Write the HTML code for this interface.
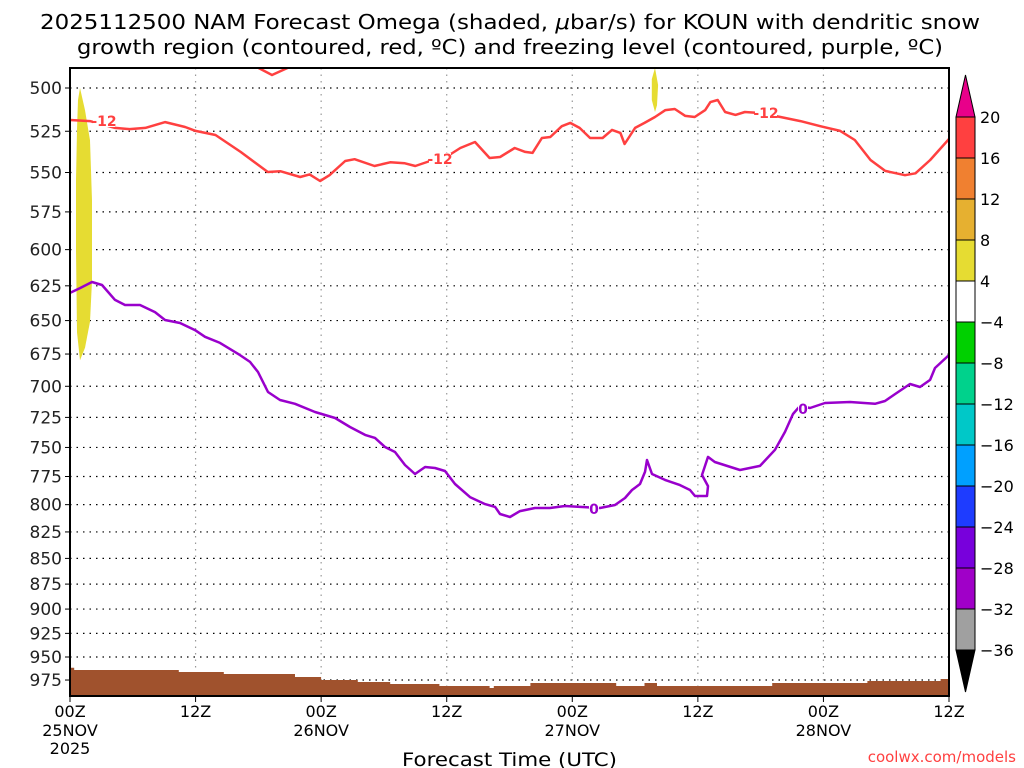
<!DOCTYPE html>
<html><head><meta charset="utf-8"><style>
html,body{margin:0;padding:0;background:#fff;}
svg{display:block;font-family:"DejaVu Sans","Liberation Sans",sans-serif;}
</style></head><body>
<svg id="chart" width="1024" height="768" viewBox="0 0 1024 768" xmlns="http://www.w3.org/2000/svg">
<text x="40" y="29" font-size="20" textLength="940" lengthAdjust="spacingAndGlyphs" fill="#000">2025112500 NAM Forecast Omega (shaded, <tspan font-style="italic">μ</tspan>bar/s) for KOUN with dendritic snow</text>
<text x="77" y="54" font-size="20" textLength="866" lengthAdjust="spacingAndGlyphs" fill="#000">growth region (contoured, red, ºC) and freezing level (contoured, purple, ºC)</text>
<g id="plot"></g>
<text x="402" y="766" font-size="19" textLength="215" lengthAdjust="spacingAndGlyphs">Forecast Time (UTC)</text>
<text x="1016" y="762" font-size="15" text-anchor="end" fill="#ff4040">coolwx.com/models</text>
</svg>
<script>
// ---- data ----
const redHours=[0,1.9,4.3,5.7,7.2,9.1,11.0,12,13.9,16.3,18.9,20.1,22,22.9,23.9,24.8,26.3,27.2,29.1,30.6,32,33,34.4,35.8,37.3,38.7,40.1,41.1,42.5,43.5,44.2,45.1,45.9,47,47.8,48.7,49.7,50.9,51.8,52.6,53,54,54.9,55.9,56.9,57.8,58.8,59.7,60.7,61.2,61.9,62.6,63.6,64.5,65.9,67.9,69.8,71.7,73.6,75,76.5,77.9,79.8,80.8,82.2,84];
const redPres=[518.4,519,523,523.7,523,519.6,522.5,524.8,527.2,537.4,549.7,549.2,552.8,551.2,555.3,551.7,542.9,541.8,546,543.7,544.3,546,542.9,541.1,535,531.4,541.1,540.5,535,537.4,538,529,528.4,522,520.1,523,529,529,524.2,526,532.6,523,520.1,516.6,512.6,512,516,516.6,512.6,508,506.8,513.7,515.4,513.7,514.3,516.6,519,522,524.8,530.2,542.3,549,551.7,550.5,542.3,529.6];
const redTopHours=[18,19.3,20.8];
const redTopPres=[488.8,492.7,488.8];
const purHours=[0,0.96,2.1,3.06,4.3,5.26,6.69,8.12,9.08,10.51,11.95,12.9,14.33,16.25,17.2,17.97,18.92,20.07,21.5,23.41,25.33,26.76,28.2,29.15,30.1,31.06,32.01,32.97,33.93,34.88,35.84,36.79,38.23,39.66,40.62,41.09,42.05,43,44.44,45.87,47.3,48.74,50.65,52.08,53.04,53.71,54.47,54.95,55.14,55.62,56.86,58.29,59.25,59.73,60.87,60.97,60.4,60.97,61.62,64.03,65.94,67.37,68.33,69.09,69.76,70.72,72.15,74.54,76.93,77.88,78.84,80.27,81.23,82.19,82.66,84];
const purPres=[630,626.6,622.3,624.4,635,638.7,638.7,643.8,649.6,651.8,657,662,666.6,675.8,681,688.8,704.5,710.9,714,720.6,725.5,732.9,739.5,742,749.6,753.9,765,772.8,766.7,767.6,770.2,781.6,793.2,799.5,802,808.5,811.2,805.8,803,803,801.2,802,803,800.3,794,786.9,781.6,771,760.7,772.8,778,782.5,786.9,792.2,792.2,783.4,773.7,758,762.4,769.3,765.8,752,737,722.2,715.7,717.4,713.3,712.5,714,711.7,706.2,698.2,700.6,695,685.7,675.8];
const sfcHours=[0,0.4,10.4,14.7,21.5,24,27.5,30.6,35.3,39.7,40.1,40.5,42.9,44,51,52.2,54.9,56.1,66,67.1,75.3,76.2,82.5,83.2,84];
const sfcPres=[961.5,964,966.2,968.4,971.7,975,977.2,979.4,981.6,981.6,983.8,981.6,981.6,978.3,978.3,981.6,978.3,981.6,981.6,978.3,978.3,976.1,976.1,973.9,973.9];
const blob1Hours=[0.96,1.43,1.91,2.1,2.1,1.91,1.43,0.96,0.67,0.57,0.57,0.67,0.76];
const blob1Pres=[500,512.6,530.4,567.7,621.4,650.9,670.3,679.8,658.6,600.3,554.5,524.3,506.8];
const blob2Hours=[55.9,56.2,56.1,55.9,55.6,55.6];
const blob2Pres=[488.8,498.3,509.8,513.7,506.8,495];
const yTicks=[500,525,550,575,600,625,650,675,700,725,750,775,800,825,850,875,900,925,950,975];
const xTickHours=[0,12,24,36,48,60,72,84];
const xTickLabels=["00Z","12Z","00Z","12Z","00Z","12Z","00Z","12Z"];
const xDateLabels=["25NOV","","26NOV","","27NOV","","28NOV",""];
const cbLabels=["20","16","12","8","4","−4","−8","−12","−16","−20","−24","−28","−32","−36"];
const cbColors=["#ff4040","#f08030","#e6b030","#e6dc32","#ffffff","#00d000","#00d28c","#00c8c8","#00a0ff","#1e3cff","#7800dc","#a000c8","#a0a0a0"];
// ---- axes ----
const X0=70,X1=949,Y0=68,Y1=696;
function xs(h){return X0+h*(X1-X0)/84;}
function ys(p){return 88+886.5*Math.log(p/500);}
const NS="http://www.w3.org/2000/svg";
const plot=document.getElementById('plot');
function mk(tag,attrs,parent){const e=document.createElementNS(NS,tag);for(const k in attrs)e.setAttribute(k,attrs[k]);(parent||plot).appendChild(e);return e;}
function pts(H,P){return H.map((h,i)=>xs(h).toFixed(1)+','+ys(P[i]).toFixed(1)).join(' ');}
const defs=mk('defs',{});const cp=mk('clipPath',{id:'pc'},defs);mk('rect',{x:X0,y:Y0,width:X1-X0,height:Y1-Y0},cp);
for(const p of yTicks){const g=mk('line',{x1:X0,x2:X1,y1:ys(p),y2:ys(p),stroke:'#000','stroke-width':1.2,'stroke-dasharray':'1.5,5'});

}
for(const h of xTickHours.slice(1,-1)){const g=mk('line',{x1:xs(h),x2:xs(h),y1:Y0,y2:Y1,stroke:'#999','stroke-width':1.2,'stroke-dasharray':'1.5,5'});

}
const cg=mk('g',{'clip-path':'url(#pc)'});
let b=mk('polygon',{points:pts(blob1Hours,blob1Pres),fill:'#e6dc32'},cg);


b=mk('polygon',{points:pts(blob2Hours,blob2Pres),fill:'#e6dc32'},cg);


// surface (stepped)
let sp='M'+xs(0)+','+Y1+' L'+xs(0)+','+ys(sfcPres[0]).toFixed(1);
for(let i=1;i<sfcHours.length;i++){sp+=' L'+xs(sfcHours[i]).toFixed(1)+','+ys(sfcPres[i-1]).toFixed(1)+' L'+xs(sfcHours[i]).toFixed(1)+','+ys(sfcPres[i]).toFixed(1);}
sp+=' L'+xs(84)+','+Y1+' Z';
const sf=mk('path',{d:sp,fill:'#a0522d'},cg);


let l=mk('polyline',{points:pts(redHours,redPres),fill:'none',stroke:'#ff4040','stroke-width':2.5,'stroke-linejoin':'round'},cg);


l=mk('polyline',{points:pts(redTopHours,redTopPres),fill:'none',stroke:'#ff4040','stroke-width':2.5},cg);


l=mk('polyline',{points:pts(purHours,purPres),fill:'none',stroke:'#9900cc','stroke-width':2.5,'stroke-linejoin':'round'},cg);


function clab(x,y,t,c,w){mk('rect',{x:x-w/2,y:y-6,width:w,height:12,fill:'#fff'},cg);const e=mk('text',{x:x,y:y+5,'font-size':14,'font-weight':'bold','text-anchor':'middle',fill:c},cg);e.textContent=t;

}
clab(104,121,'-12','#ff4040',22);clab(440,159,'-12','#ff4040',22);clab(766,113,'-12','#ff4040',22);
clab(594,509,'0','#9900cc',10);clab(803,409,'0','#9900cc',10);
const fr=mk('rect',{x:X0,y:Y0,width:X1-X0,height:Y1-Y0,fill:'none',stroke:'#000','stroke-width':2});


for(const p of yTicks){const t=mk('text',{x:62,y:ys(p)+6,'font-size':17,'text-anchor':'end',fill:'#222'});t.textContent=p;


mk('line',{x1:X0-5,x2:X0,y1:ys(p),y2:ys(p),stroke:'#000','stroke-width':1});}
xTickHours.forEach((h,i)=>{mk('line',{x1:xs(h),x2:xs(h),y1:Y1,y2:Y1+6,stroke:'#000','stroke-width':1});
const t=mk('text',{x:xs(h),y:717,'font-size':16,'text-anchor':'middle'});t.textContent=xTickLabels[i];


if(xDateLabels[i]){const d=mk('text',{x:xs(h),y:736,'font-size':16,'text-anchor':'middle'});d.textContent=xDateLabels[i];

}});
const yr=mk('text',{x:xs(0),y:754,'font-size':16,'text-anchor':'middle'});yr.textContent='2025';


const CX=956,CW=19,CT=117,CB=650,step=(CB-CT)/cbColors.length;
const cb=mk('g',{});


mk('polygon',{points:`${CX},${CT} ${CX+CW},${CT} ${CX+CW/2},${75}`,fill:'#e8008a',stroke:'#000','stroke-width':1},cb);
cbColors.forEach((c,i)=>{const r=mk('rect',{x:CX,y:CT+i*step,width:CW,height:step,fill:c,stroke:'#000','stroke-width':1},cb);

});
mk('polygon',{points:`${CX},${CB} ${CX+CW},${CB} ${CX+CW/2},${692}`,fill:'#000',stroke:'#000','stroke-width':1},cb);
cbLabels.forEach((t,i)=>{const e=mk('text',{x:980,y:CT+i*step+6,'font-size':16},cb);e.textContent=t;

});
</script>
</body></html>
